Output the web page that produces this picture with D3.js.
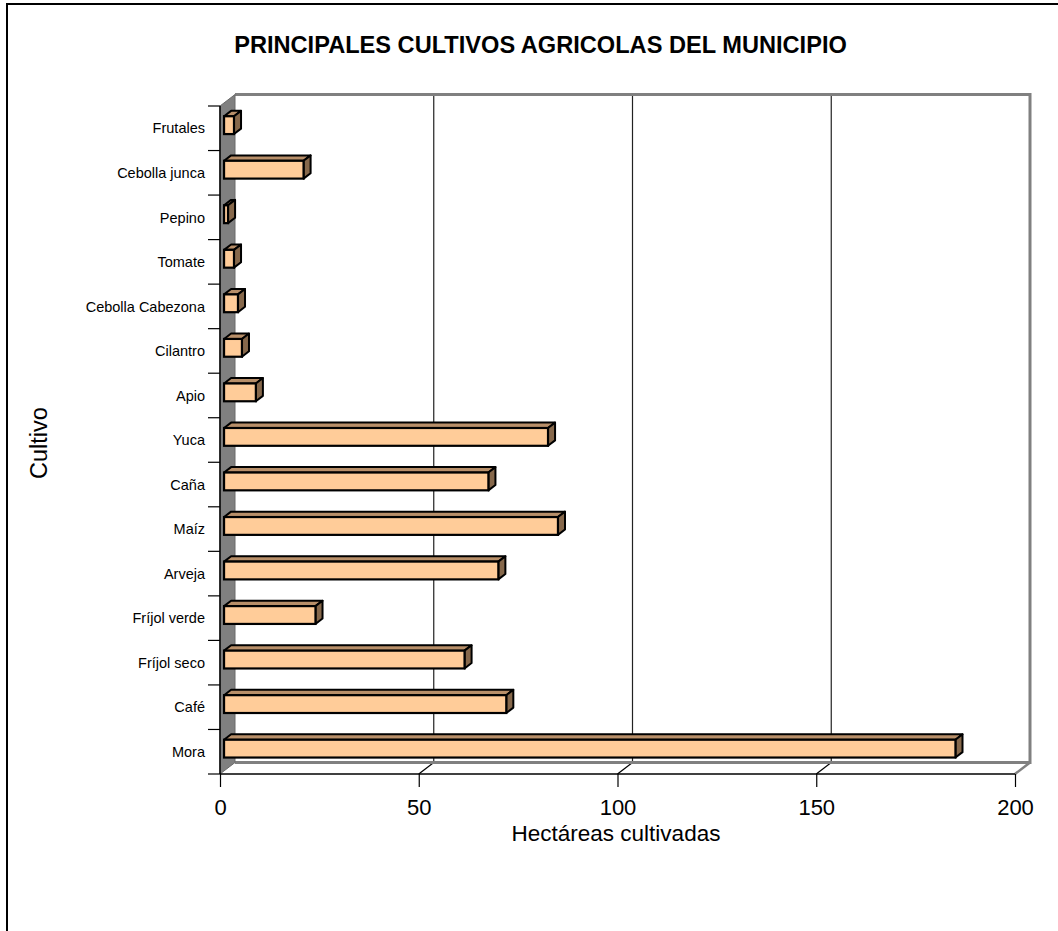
<!DOCTYPE html>
<html>
<head>
<meta charset="utf-8">
<script src="https://cdn.jsdelivr.net/npm/d3@7/dist/d3.min.js"></script>
<style>
  html, body { margin: 0; padding: 0; background: #fff; }
  svg { display: block; }
  text { font-family: "Liberation Sans", Arial, sans-serif; }
</style>
</head>
<body>
<svg id="chart" width="1058" height="931"></svg>
<script>
// ---- data ----
const categories = ["Mora", "Café", "Fríjol seco", "Fríjol verde", "Arveja", "Maíz", "Caña", "Yuca",
  "Apio", "Cilantro", "Cebolla Cabezona", "Tomate", "Pepino", "Cebolla junca", "Frutales"];
const values = [184, 71, 60.5, 23, 69, 84, 66.5, 81.5, 8, 4.5, 3.5, 2.5, 1, 20, 2.5];
const xTicks = [0, 50, 100, 150, 200];
const titleText = "PRINCIPALES CULTIVOS AGRICOLAS DEL MUNICIPIO";
const xTitle = "Hectáreas cultivadas";
const yTitle = "Cultivo";

// ---- layout ----
const svg = d3.select("#chart");
const front = { left: 220, right: 1015, top: 106, bottom: 774 };
const DX = 15, DY = -11.5;         // depth of the 3D box
const barD0 = 0.27, barD1 = 0.74;  // bar depth range (fraction of box depth)

const x = d3.scaleLinear().domain([0, 200]).range([front.left, front.right]);
const y = d3.scaleBand().domain(categories.slice().reverse())
  .range([front.top, front.bottom]).paddingInner(0.6).paddingOuter(0.3);

const data = categories.map((c, i) => ({ cat: c, val: values[i] }));

// outer frame
svg.append("rect").attr("x", 7).attr("y", 4).attr("width", 1200).attr("height", 1200)
  .attr("fill", "none").attr("stroke", "#000").attr("stroke-width", 2);

// back wall
const back = { left: front.left + DX, right: front.right + DX, top: front.top + DY, bottom: front.bottom + DY };
svg.append("rect").attr("x", back.left).attr("y", back.top)
  .attr("width", back.right - back.left).attr("height", back.bottom - back.top).attr("fill", "#fff");

// back wall gridlines
svg.append("g").selectAll("line").data(xTicks.slice(1, -1)).join("line")
  .attr("x1", d => x(d) + DX).attr("x2", d => x(d) + DX)
  .attr("y1", back.top).attr("y2", back.bottom)
  .attr("stroke", "#222").attr("stroke-width", 1.2);

// floor gridlines (diagonals)
svg.append("g").selectAll("line").data(xTicks.slice(1)).join("line")
  .attr("x1", d => x(d) + DX).attr("y1", back.bottom)
  .attr("x2", d => x(d)).attr("y2", front.bottom)
  .attr("stroke", d => d === 200 ? "#808080" : "#000").attr("stroke-width", d => d === 200 ? 2.5 : 1.2);

// back wall border
svg.append("path")
  .attr("d", `M${back.left},${back.top}H${back.right}V${back.bottom}H${back.left}`)
  .attr("fill", "none").attr("stroke", "#808080").attr("stroke-width", 3);

// left wall
svg.append("path")
  .attr("d", `M${front.left},${front.top}L${back.left},${back.top}L${back.left},${back.bottom}L${front.left},${front.bottom}Z`)
  .attr("fill", "#808080").attr("stroke", "#6a6a6a").attr("stroke-width", 1);

// axes lines
svg.append("line").attr("x1", front.left).attr("x2", front.right)
  .attr("y1", front.bottom).attr("y2", front.bottom).attr("stroke", "#000").attr("stroke-width", 1.5);
svg.append("line").attr("x1", front.left).attr("x2", front.left)
  .attr("y1", front.top).attr("y2", front.bottom).attr("stroke", "#000").attr("stroke-width", 1.5);

// category ticks (band boundaries)
const step = y.step();
const catTicks = d3.range(categories.length + 1).map(i => front.top + i * step);
svg.append("g").selectAll("line").data(catTicks).join("line")
  .attr("x1", front.left - 12).attr("x2", front.left)
  .attr("y1", d => d).attr("y2", d => d)
  .attr("stroke", "#000").attr("stroke-width", 1.2);

// value axis ticks + labels
const xAxis = d3.axisBottom(x).tickValues(xTicks).tickSize(13).tickSizeOuter(0).tickPadding(12);
const gx = svg.append("g").attr("transform", `translate(0,${front.bottom})`).call(xAxis);
gx.select(".domain").remove();
gx.selectAll(".tick line").attr("stroke", "#000").attr("stroke-width", 1.2);
gx.selectAll(".tick text").attr("font-size", 22).attr("fill", "#000")
  .attr("font-family", "'Liberation Sans', Arial, sans-serif");

// category labels
svg.append("g").selectAll("text").data(categories).join("text")
  .attr("x", front.left - 15)
  .attr("y", d => y(d) + y.bandwidth() / 2)
  .attr("dy", "0.36em")
  .attr("text-anchor", "end")
  .attr("font-size", 14.5)
  .text(d => d);

// bars
const d0x = barD0 * DX, d0y = barD0 * DY;
const ddx = (barD1 - barD0) * DX, ddy = (barD1 - barD0) * DY;
const bars = svg.append("g").selectAll("g").data(data).join("g");
bars.each(function (d) {
  const g = d3.select(this);
  const xl = x(0) + d0x, xr = x(d.val) + d0x;
  const yt = y(d.cat) + d0y, yb = y(d.cat) + y.bandwidth() + d0y;
  // top face
  g.append("path")
    .attr("d", `M${xl},${yt}L${xl + ddx},${yt + ddy}L${xr + ddx},${yt + ddy}L${xr},${yt}Z`)
    .attr("fill", "#B88F69").attr("stroke", "#000").attr("stroke-width", 2).attr("stroke-linejoin", "round");
  // side face
  g.append("path")
    .attr("d", `M${xr},${yt}L${xr + ddx},${yt + ddy}L${xr + ddx},${yb + ddy}L${xr},${yb}Z`)
    .attr("fill", "#86684B").attr("stroke", "#000").attr("stroke-width", 2).attr("stroke-linejoin", "round");
  // front face
  g.append("rect").attr("x", xl).attr("y", yt).attr("width", Math.max(0, xr - xl)).attr("height", yb - yt)
    .attr("fill", "#FFCC99").attr("stroke", "#000").attr("stroke-width", 2.2);
});

// title
svg.append("text").attr("x", 540.5).attr("y", 52.7).attr("text-anchor", "middle")
  .attr("font-size", 23.6).attr("font-weight", "bold").text(titleText);

// axis titles
svg.append("text").attr("x", 616).attr("y", 841).attr("text-anchor", "middle")
  .attr("font-size", 22.5).text(xTitle);
svg.append("text").attr("transform", "translate(46.5,443) rotate(-90)")
  .attr("text-anchor", "middle").attr("font-size", 23.5).text(yTitle);
</script>
</body>
</html>
